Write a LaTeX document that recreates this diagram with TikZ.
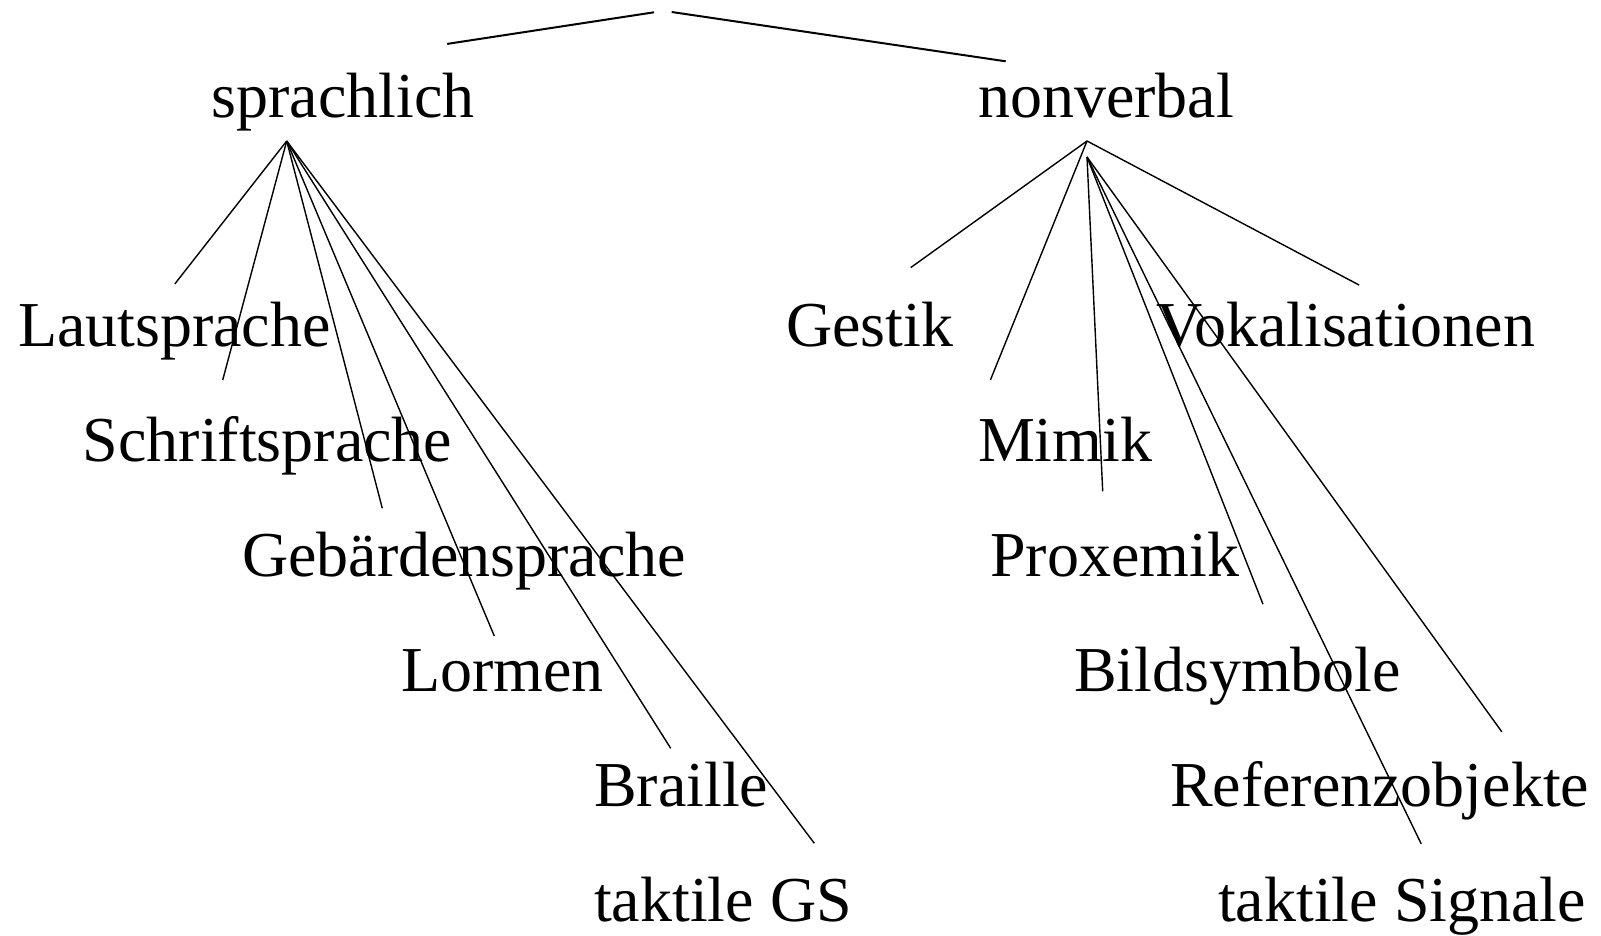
\documentclass[tikz,border=0pt]{standalone}
\usepackage{fontspec}
\setmainfont{Liberation Serif}
\begin{document}
\begin{tikzpicture}[x=1pt,y=-1pt,
  word/.style={anchor=base west, inner sep=0pt, outer sep=0pt,
               font=\fontsize{64}{70}\selectfont},
  branch/.style={line width=1.4pt},
  topbranch/.style={line width=2pt}]
\useasboundingbox (0,0) rectangle (1601,935);

% ---- top level ----
\node[word] (sprachlich) at (211.5,117) {sprachlich};
\node[word] (nonverbal)  at (978,117) {nonverbal};
\coordinate (rootL) at (654,12.3);
\coordinate (rootR) at (671.7,12);
\coordinate (sprachlich-in) at (447.2,43.9);
\coordinate (nonverbal-in)  at (1005.7,61.3);
\draw[topbranch] (rootL) -- (sprachlich-in);
\draw[topbranch] (rootR) -- (nonverbal-in);

% ---- sprachlich ----
\coordinate (sprachlich-out) at (286.7,141);
\node[word] (laut)    at (18,346.5)  {Lautsprache};
\node[word] (schrift) at (82.7,461.5) {Schriftsprache};
\node[word] (gebaerde) at (242,576.5) {Gebärdensprache};
\node[word] (lormen)  at (401.3,691.5) {Lormen};
\node[word] (braille) at (594.2,806.5) {Braille};
\node[word] (taktgs)  at (594.2,921.5) {taktile GS};
\coordinate (laut-in)     at (174.8,284);
\coordinate (schrift-in)  at (222.7,380);
\coordinate (gebaerde-in) at (382.3,508.3);
\coordinate (lormen-in)   at (494.3,636);
\coordinate (braille-in)  at (670.7,748.3);
\coordinate (taktgs-in)   at (814.3,843.3);
\foreach \c in {laut,schrift,gebaerde,lormen,braille,taktgs}
  \draw[branch] (sprachlich-out) -- (\c-in);

% ---- nonverbal ----
\coordinate (nonverbal-out)  at (1087,141);
\coordinate (nonverbal-out2) at (1087,157);
\node[word] (gestik)  at (786.2,346.5) {Gestik};
\node[word] (vokal)   at (1156,346.5) {Vokalisationen};
\node[word] (mimik)   at (978,461.5) {Mimik};
\node[word] (proxemik) at (990.4,576.5) {Proxemik};
\node[word] (bild)    at (1074,691.5) {Bildsymbole};
\node[word] (referenz) at (1170,806.5) {Referenzobjekte};
\node[word] (taktsig) at (1218,921.5) {taktile Signale};
\coordinate (gestik-in)   at (910.7,267.6);
\coordinate (vokal-in)    at (1359,285);
\coordinate (mimik-in)    at (990.4,380);
\coordinate (proxemik-in) at (1102.7,491.3);
\coordinate (bild-in)     at (1263,604.2);
\coordinate (referenz-in) at (1501.8,731.8);
\coordinate (taktsig-in)  at (1421.2,843.8);
\foreach \c in {gestik,vokal,mimik}
  \draw[branch] (nonverbal-out) -- (\c-in);
\foreach \c in {proxemik,bild,referenz,taktsig}
  \draw[branch] (nonverbal-out2) -- (\c-in);
\end{tikzpicture}
\end{document}
